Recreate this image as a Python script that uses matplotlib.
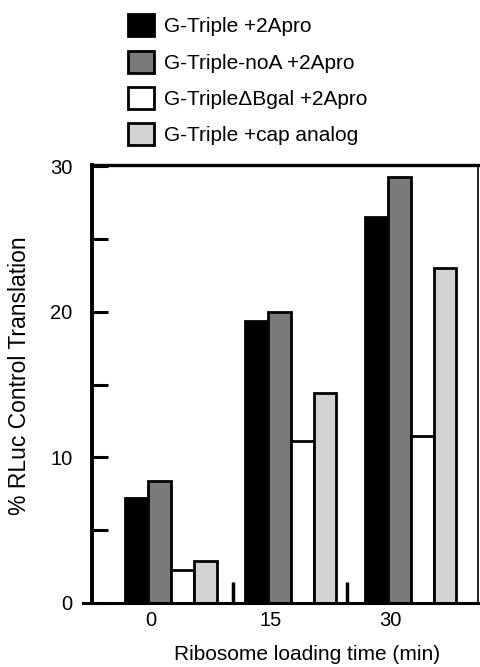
import numpy as np
import matplotlib
matplotlib.use('Agg')
import matplotlib.pyplot as plt
from matplotlib.patches import Patch

plt.rcParams['font.family'] = ['Liberation Sans', 'DejaVu Sans']

times = ['0', '15', '30']
series = ['G-Triple +2Apro', 'G-Triple-noA +2Apro',
          'G-Triple\u0394Bgal +2Apro', 'G-Triple +cap analog']
colors = ['#000000', '#7a7a7a', '#ffffff', '#d2d2d2']
triple_2apro = [7.2, 19.4, 26.5]
noA_2apro = [8.4, 20.0, 29.3]
dbgal_2apro = [2.3, 11.1, 11.5]
cap_analog = [2.9, 14.4, 23.0]
values = [triple_2apro, noA_2apro, dbgal_2apro, cap_analog]

fig = plt.figure(figsize=(4.81, 6.67), dpi=100)
ax = fig.add_axes([92/481, 1 - 603/667, (478 - 92)/481, (603 - 165)/667])

x = np.arange(len(times))
offsets = [-0.285, -0.095, 0.095, 0.285]
for vals, off, c in zip(values, offsets, colors):
    ax.bar(x + off, vals, width=0.19, color=c, edgecolor='black', linewidth=2)

ax.set_xlim(-0.658, 2.56)
ax.set_ylim(0, 30.1)

ax.set_yticks([0, 10, 20, 30])
ax.set_yticks([5, 15, 25], minor=True)
ax.tick_params(axis='y', which='both', direction='in', length=11.5, width=2.2,
               pad=14, labelsize=14.5)

ax.set_xticks(x - 0.17)
ax.set_xticklabels(times)
ax.set_xticks([0.517, 1.47], minor=True)
ax.tick_params(axis='x', which='major', length=0, pad=6, labelsize=14.5)
ax.tick_params(axis='x', which='minor', direction='in', length=15, width=2.5)

ax.spines['left'].set_linewidth(2.8)
ax.spines['bottom'].set_linewidth(2.2)
ax.spines['top'].set_linewidth(2.4)
ax.spines['right'].set_linewidth(1.2)
ax.spines['bottom'].set_bounds(-0.73, 2.56)

ax.set_ylabel('% RLuc Control Translation', fontsize=16.5, va='center')
ax.yaxis.set_label_coords(-0.187, 0.52)
ax.set_xlabel('Ribosome loading time (min)', fontsize=15, va='center')
ax.xaxis.set_label_coords(0.557, -0.117)

handles = [Patch(facecolor=c, edgecolor='black', linewidth=2) for c in colors]
fig.legend(handles, series, loc='upper left', bbox_to_anchor=(118/481, 1 - 4/667),
           frameon=False, fontsize=15, handlelength=1.25, handleheight=1.25,
           labelspacing=0.68, handletextpad=0.45, borderpad=0)

fig.savefig('out.png', dpi=100)
